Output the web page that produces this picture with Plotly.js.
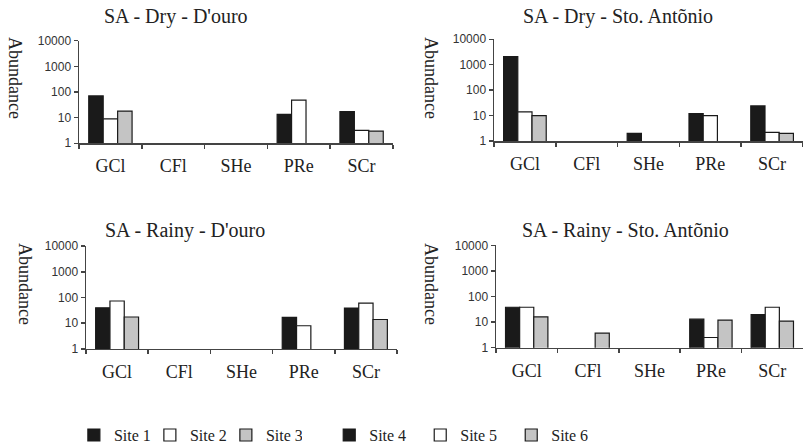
<!DOCTYPE html>
<html>
<head>
<meta charset="utf-8">
<script src="https://cdn.plot.ly/plotly-3.0.1.min.js"></script>
<style>html,body{margin:0;padding:0;background:#fff;}#chart{width:803px;height:444px;}</style>
</head>
<body>
<div id="chart"></div>
<script>
// ---- data ----
const categories = ["GCl", "CFl", "SHe", "PRe", "SCr"];
const panelTitles = ["SA - Dry - D'ouro", "SA - Dry - Sto. Antõnio", "SA - Rainy - D'ouro", "SA - Rainy - Sto. Antõnio"];
const siteNames = ["Site 1", "Site 2", "Site 3", "Site 4", "Site 5", "Site 6"];
const yTickVals = [1, 10, 100, 1000, 10000];
const yTickText = ["1", "10", "100", "1000", "10000"];
// Dry - D'ouro (Sites 1-3)
const dryDouroSite1 = [70, null, null, 13.5, 17];
const dryDouroSite2 = [9, null, null, 48, 3.2];
const dryDouroSite3 = [18, null, null, null, 3];
// Dry - Sto. Antonio (Sites 4-6)
const dryStoSite4 = [2100, null, 2, 12, 24];
const dryStoSite5 = [14, null, null, 10, 2.2];
const dryStoSite6 = [10, null, null, null, 2];
// Rainy - D'ouro (Sites 1-3)
const rainyDouroSite1 = [40, null, null, 17, 39];
const rainyDouroSite2 = [73, null, null, 8, 61];
const rainyDouroSite3 = [17.5, null, null, null, 14];
// Rainy - Sto. Antonio (Sites 4-6)
const rainyStoSite4 = [38, null, null, 13, 19.5];
const rainyStoSite5 = [38, null, null, 2.5, 38];
const rainyStoSite6 = [16, 3.7, null, 12, 11];

// ---- styles ----
const fills = ["#1a1a1a", "#ffffff", "#c4c4c4"];
const serif = "'Liberation Serif', 'Times New Roman', Times, serif";
const sans = "'Liberation Sans', Arial, Helvetica, sans-serif";

const panels = [
  {series: [dryDouroSite1, dryDouroSite2, dryDouroSite3], names: siteNames.slice(0,3), legend: "legend"},
  {series: [dryStoSite4, dryStoSite5, dryStoSite6], names: siteNames.slice(3,6), legend: "legend2"},
  {series: [rainyDouroSite1, rainyDouroSite2, rainyDouroSite3], names: siteNames.slice(0,3), legend: "legend"},
  {series: [rainyStoSite4, rainyStoSite5, rainyStoSite6], names: siteNames.slice(3,6), legend: "legend2"}
];

const traces = [];
panels.forEach((p, i) => {
  const ax = i === 0 ? "" : String(i + 1);
  p.series.forEach((vals, k) => {
    traces.push({
      type: "bar",
      x: categories,
      y: vals,
      name: p.names[k],
      xaxis: "x" + ax,
      yaxis: "y" + ax,
      legend: p.legend,
      showlegend: (i === 0 || i === 1),
      marker: {color: fills[k], line: {color: "#1a1a1a", width: 1.2}},
      hoverinfo: "x+y+name"
    });
  });
});

// subplot domains (paper fractions)
const xDomains = [[0.0984, 0.4894], [0.6152, 1.0], [0.1071, 0.4944], [0.6177, 1.0]];
const yDomains = [[0.6773, 0.9083], [0.6824, 0.9115], [0.2140, 0.4459], [0.2169, 0.4475]];

const layout = {
  width: 803, height: 444,
  margin: {l: 0, r: 0, t: 0, b: 0, autoexpand: false},
  paper_bgcolor: "#ffffff",
  plot_bgcolor: "rgba(0,0,0,0)",
  barmode: "group",
  bargap: 0.31,
  bargroupgap: 0,
  annotations: [],
  legend: {
    orientation: "h", x: 0.092, y: 0.02, xanchor: "left", yanchor: "middle",
    entrywidth: 31, entrywidthmode: "pixels",
    font: {family: serif, size: 16, color: "#222"},
    tracegroupgap: 0, bgcolor: "rgba(0,0,0,0)"
  },
  legend2: {
    orientation: "h", x: 0.410, y: 0.02, xanchor: "left", yanchor: "middle",
    entrywidth: 46, entrywidthmode: "pixels",
    font: {family: serif, size: 16, color: "#222"},
    tracegroupgap: 0, bgcolor: "rgba(0,0,0,0)"
  }
};

const titleX = [175.5, 617.5, 184.7, 625.6];
const titleY = [17, 17, 230, 230];
const yTitleX = [15, 431, 25, 431];
const yTitleY = [78, 78, 284, 284];

panels.forEach((p, i) => {
  const ax = i === 0 ? "" : String(i + 1);
  layout["xaxis" + ax] = {
    domain: xDomains[i], anchor: "y" + ax,
    type: "category", range: [-0.5, 4.5],
    showline: true, linecolor: "#444", linewidth: 1.5,
    ticks: "outside", tickson: "boundaries", ticklen: 4, tickcolor: "#444", tickwidth: 1.5,
    ticklabelstandoff: 6,
    tickfont: {family: serif, size: 18, color: "#222"},
    showgrid: false, zeroline: false, fixedrange: true
  };
  layout["yaxis" + ax] = {
    domain: yDomains[i], anchor: "x" + ax,
    type: "log", range: [0, 4],
    tickvals: yTickVals, ticktext: yTickText,
    showline: true, linecolor: "#444", linewidth: 1.5,
    ticks: "outside", ticklen: 4, tickcolor: "#444", tickwidth: 1.5,
    tickfont: {family: sans, size: 12, color: "#333"},
    showgrid: false, zeroline: false, fixedrange: true
  };
  layout.annotations.push({
    text: panelTitles[i], xref: "paper", yref: "paper",
    x: titleX[i] / 803, y: 1 - titleY[i] / 444, xanchor: "center", yanchor: "middle",
    showarrow: false, font: {family: serif, size: 20, color: "#222"}
  });
  layout.annotations.push({
    text: "Abundance", xref: "paper", yref: "paper", textangle: 90,
    x: yTitleX[i] / 803, y: 1 - yTitleY[i] / 444, xanchor: "center", yanchor: "middle",
    showarrow: false, font: {family: serif, size: 18, color: "#222"}
  });
});

Plotly.newPlot("chart", traces, layout, {displayModeBar: false, staticPlot: true});
</script>
</body>
</html>
